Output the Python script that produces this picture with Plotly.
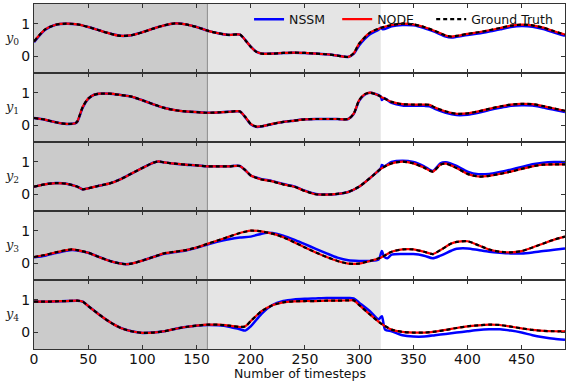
import plotly.graph_objects as go
from plotly.subplots import make_subplots

# ---------------- data ----------------
t0 = [0, 10, 20, 30, 40, 50, 60, 70, 80, 90, 100, 110, 120, 130, 140, 150, 160, 170, 180, 190, 195, 200, 205, 210, 220, 230, 240, 250, 260, 270, 280, 290, 295, 300, 310, 320, 330, 340, 350, 360, 370, 380, 385, 390, 400, 410, 420, 430, 440, 450, 460, 470, 480, 490]
gt0 = [0.46, 0.82, 0.97, 1.00, 0.98, 0.90, 0.80, 0.70, 0.63, 0.65, 0.74, 0.85, 0.95, 1.01, 0.98, 0.90, 0.79, 0.71, 0.66, 0.67, 0.50, 0.30, 0.15, 0.09, 0.09, 0.11, 0.12, 0.11, 0.09, 0.07, 0.03, -0.01, 0.10, 0.39, 0.73, 0.87, 0.96, 1.00, 0.98, 0.90, 0.78, 0.64, 0.61, 0.63, 0.69, 0.74, 0.80, 0.87, 0.94, 0.97, 0.95, 0.88, 0.77, 0.67]
node0 = [0.46, 0.82, 0.97, 1.00, 0.98, 0.90, 0.80, 0.70, 0.63, 0.65, 0.74, 0.85, 0.95, 1.01, 0.98, 0.90, 0.79, 0.71, 0.66, 0.67, 0.50, 0.30, 0.15, 0.09, 0.09, 0.11, 0.12, 0.11, 0.09, 0.07, 0.03, -0.01, 0.10, 0.39, 0.73, 0.87, 0.96, 1.00, 0.98, 0.90, 0.78, 0.64, 0.61, 0.63, 0.69, 0.74, 0.80, 0.87, 0.94, 0.97, 0.95, 0.88, 0.77, 0.67]
nt0 = [0, 10, 20, 30, 40, 50, 60, 70, 80, 90, 100, 110, 120, 130, 140, 150, 160, 170, 180, 190, 195, 200, 205, 210, 220, 230, 240, 250, 260, 270, 280, 290, 295, 300, 310, 318, 320, 322, 330, 340, 350, 360, 370, 380, 385, 390, 400, 410, 420, 430, 440, 450, 460, 470, 480, 490]
nssm0 = [0.44, 0.81, 0.97, 1.00, 0.98, 0.90, 0.80, 0.70, 0.63, 0.65, 0.74, 0.85, 0.95, 1.01, 0.98, 0.90, 0.79, 0.71, 0.66, 0.67, 0.50, 0.30, 0.15, 0.09, 0.09, 0.11, 0.12, 0.11, 0.09, 0.07, 0.03, -0.01, 0.08, 0.34, 0.68, 0.82, 0.88, 0.83, 0.92, 0.96, 0.95, 0.87, 0.75, 0.61, 0.58, 0.60, 0.66, 0.70, 0.76, 0.83, 0.90, 0.93, 0.91, 0.84, 0.73, 0.63]

t1 = [0, 10, 20, 30, 38, 40, 45, 50, 55, 60, 70, 80, 90, 100, 110, 120, 130, 140, 150, 160, 170, 180, 190, 195, 200, 205, 210, 220, 230, 240, 250, 260, 270, 280, 290, 295, 300, 305, 310, 315, 320, 330, 340, 350, 360, 365, 370, 380, 390, 400, 410, 420, 430, 440, 450, 460, 470, 480, 490]
gt1 = [0.23, 0.18, 0.10, 0.05, 0.07, 0.13, 0.57, 0.82, 0.93, 0.97, 0.97, 0.93, 0.88, 0.77, 0.65, 0.54, 0.47, 0.43, 0.41, 0.39, 0.40, 0.42, 0.43, 0.26, 0.05, -0.03, -0.02, 0.05, 0.11, 0.15, 0.19, 0.20, 0.20, 0.20, 0.20, 0.36, 0.77, 0.95, 1.00, 0.96, 0.88, 0.72, 0.65, 0.64, 0.64, 0.63, 0.55, 0.43, 0.36, 0.37, 0.43, 0.51, 0.58, 0.64, 0.66, 0.65, 0.59, 0.52, 0.45]
node1 = [0.23, 0.18, 0.10, 0.05, 0.07, 0.13, 0.57, 0.82, 0.93, 0.97, 0.97, 0.93, 0.88, 0.77, 0.65, 0.54, 0.47, 0.43, 0.41, 0.39, 0.40, 0.42, 0.43, 0.26, 0.05, -0.03, -0.02, 0.05, 0.11, 0.15, 0.19, 0.20, 0.20, 0.20, 0.20, 0.36, 0.77, 0.95, 1.00, 0.96, 0.88, 0.72, 0.65, 0.64, 0.64, 0.63, 0.55, 0.43, 0.36, 0.37, 0.43, 0.51, 0.58, 0.64, 0.66, 0.65, 0.59, 0.52, 0.45]
nt1 = [0, 10, 20, 30, 38, 40, 45, 50, 55, 60, 70, 80, 90, 100, 110, 120, 130, 140, 150, 160, 170, 180, 190, 195, 200, 205, 210, 220, 230, 240, 250, 260, 270, 280, 290, 295, 300, 305, 310, 315, 320, 321, 323, 330, 340, 350, 360, 365, 370, 380, 390, 400, 410, 420, 430, 440, 450, 460, 470, 480, 490]
nssm1 = [0.23, 0.18, 0.10, 0.05, 0.07, 0.12, 0.55, 0.81, 0.93, 0.97, 0.97, 0.93, 0.88, 0.77, 0.65, 0.54, 0.47, 0.43, 0.41, 0.39, 0.40, 0.42, 0.43, 0.25, 0.04, -0.04, -0.03, 0.05, 0.11, 0.15, 0.19, 0.20, 0.20, 0.20, 0.20, 0.35, 0.75, 0.94, 1.00, 0.96, 0.88, 0.78, 0.84, 0.69, 0.61, 0.60, 0.60, 0.59, 0.51, 0.39, 0.32, 0.33, 0.39, 0.47, 0.54, 0.60, 0.62, 0.61, 0.55, 0.48, 0.41]

t2 = [0, 10, 20, 30, 40, 45, 50, 60, 70, 80, 90, 100, 110, 115, 120, 130, 140, 150, 160, 170, 180, 190, 195, 200, 205, 210, 220, 230, 240, 250, 260, 270, 280, 290, 300, 310, 320, 330, 340, 350, 360, 368, 375, 380, 390, 400, 410, 420, 430, 440, 450, 460, 470, 480, 490]
gt2 = [0.24, 0.31, 0.35, 0.33, 0.24, 0.16, 0.19, 0.27, 0.34, 0.47, 0.64, 0.81, 0.97, 1.01, 0.98, 0.94, 0.91, 0.89, 0.86, 0.86, 0.86, 0.87, 0.74, 0.58, 0.51, 0.46, 0.40, 0.31, 0.24, 0.11, 0.01, 0.00, 0.02, 0.08, 0.24, 0.50, 0.78, 0.95, 1.00, 0.95, 0.82, 0.70, 0.91, 0.94, 0.81, 0.63, 0.55, 0.57, 0.63, 0.70, 0.78, 0.86, 0.91, 0.92, 0.92]
node2 = [0.24, 0.31, 0.35, 0.33, 0.24, 0.16, 0.19, 0.27, 0.34, 0.47, 0.64, 0.81, 0.97, 1.01, 0.98, 0.94, 0.91, 0.89, 0.86, 0.86, 0.86, 0.87, 0.74, 0.58, 0.51, 0.46, 0.40, 0.31, 0.24, 0.11, 0.01, 0.00, 0.02, 0.08, 0.24, 0.50, 0.78, 0.95, 1.00, 0.95, 0.82, 0.70, 0.91, 0.94, 0.81, 0.63, 0.55, 0.57, 0.63, 0.70, 0.78, 0.86, 0.91, 0.92, 0.92]
nt2 = [0, 10, 20, 30, 40, 45, 50, 60, 70, 80, 90, 100, 110, 115, 120, 130, 140, 150, 160, 170, 180, 190, 195, 200, 205, 210, 220, 230, 240, 250, 260, 270, 280, 290, 300, 310, 320, 321, 323, 330, 340, 350, 360, 368, 375, 380, 390, 400, 410, 420, 430, 440, 450, 460, 470, 480, 490]
nssm2 = [0.24, 0.31, 0.35, 0.33, 0.24, 0.16, 0.19, 0.27, 0.34, 0.47, 0.64, 0.81, 0.97, 1.01, 0.98, 0.94, 0.91, 0.89, 0.86, 0.86, 0.86, 0.87, 0.74, 0.58, 0.52, 0.47, 0.41, 0.32, 0.25, 0.12, 0.02, 0.00, 0.02, 0.08, 0.24, 0.50, 0.80, 0.90, 0.86, 0.99, 1.03, 0.99, 0.86, 0.72, 0.95, 0.98, 0.87, 0.70, 0.62, 0.63, 0.69, 0.76, 0.84, 0.92, 0.97, 0.99, 0.99]

t3 = [0, 10, 20, 30, 35, 40, 50, 60, 70, 80, 85, 90, 100, 110, 120, 130, 140, 150, 160, 170, 180, 190, 200, 210, 220, 230, 240, 250, 260, 270, 280, 290, 300, 310, 320, 330, 340, 350, 360, 368, 375, 385, 390, 400, 410, 420, 430, 440, 450, 460, 470, 480, 490]
gt3 = [0.20, 0.26, 0.34, 0.41, 0.43, 0.41, 0.33, 0.20, 0.08, 0.00, -0.02, 0.00, 0.09, 0.20, 0.31, 0.36, 0.41, 0.49, 0.60, 0.71, 0.82, 0.93, 1.00, 0.98, 0.91, 0.80, 0.65, 0.49, 0.34, 0.20, 0.08, 0.00, 0.00, 0.08, 0.18, 0.36, 0.43, 0.43, 0.36, 0.29, 0.41, 0.61, 0.66, 0.68, 0.56, 0.43, 0.36, 0.34, 0.38, 0.49, 0.61, 0.73, 0.82]
node3 = [0.20, 0.26, 0.34, 0.41, 0.43, 0.41, 0.33, 0.20, 0.08, 0.00, -0.02, 0.00, 0.09, 0.20, 0.31, 0.36, 0.41, 0.49, 0.60, 0.71, 0.82, 0.93, 1.00, 0.98, 0.91, 0.80, 0.65, 0.49, 0.34, 0.20, 0.08, 0.00, 0.00, 0.08, 0.18, 0.36, 0.43, 0.43, 0.36, 0.29, 0.41, 0.61, 0.66, 0.68, 0.56, 0.43, 0.36, 0.34, 0.38, 0.49, 0.61, 0.73, 0.82]
nt3 = [0, 10, 20, 30, 35, 40, 50, 60, 70, 80, 85, 90, 100, 110, 120, 130, 140, 150, 160, 170, 180, 190, 200, 210, 215, 220, 230, 240, 250, 260, 270, 280, 290, 300, 310, 318, 321, 323, 326, 330, 340, 350, 360, 368, 375, 385, 390, 400, 410, 420, 430, 440, 450, 460, 470, 480, 490]
nssm3 = [0.19, 0.24, 0.32, 0.39, 0.41, 0.40, 0.33, 0.20, 0.08, 0.00, -0.02, 0.00, 0.09, 0.20, 0.30, 0.35, 0.40, 0.48, 0.58, 0.67, 0.74, 0.79, 0.82, 0.91, 0.94, 0.93, 0.85, 0.73, 0.59, 0.45, 0.31, 0.18, 0.10, 0.08, 0.08, 0.12, 0.38, 0.22, 0.16, 0.27, 0.29, 0.29, 0.24, 0.16, 0.24, 0.39, 0.45, 0.46, 0.41, 0.36, 0.33, 0.31, 0.31, 0.34, 0.38, 0.42, 0.46]

t4 = [0, 10, 20, 30, 40, 45, 50, 60, 70, 80, 90, 100, 110, 120, 130, 140, 150, 160, 170, 180, 190, 195, 200, 210, 220, 230, 240, 250, 260, 270, 280, 290, 295, 300, 310, 320, 330, 340, 350, 360, 370, 380, 390, 400, 410, 420, 430, 440, 450, 460, 470, 480, 490]
gt4 = [0.94, 0.94, 0.95, 0.96, 0.97, 0.94, 0.81, 0.55, 0.32, 0.14, 0.04, -0.01, 0.00, 0.04, 0.11, 0.17, 0.21, 0.24, 0.24, 0.21, 0.17, 0.19, 0.35, 0.65, 0.83, 0.92, 0.95, 0.96, 0.96, 0.97, 0.97, 0.98, 0.98, 0.84, 0.55, 0.28, 0.09, 0.02, 0.00, 0.00, 0.03, 0.08, 0.14, 0.19, 0.22, 0.24, 0.23, 0.18, 0.13, 0.08, 0.05, 0.04, 0.04]
node4 = [0.94, 0.94, 0.95, 0.96, 0.97, 0.94, 0.81, 0.55, 0.32, 0.14, 0.04, -0.01, 0.00, 0.04, 0.11, 0.17, 0.21, 0.24, 0.24, 0.21, 0.17, 0.19, 0.35, 0.65, 0.83, 0.92, 0.95, 0.96, 0.96, 0.97, 0.97, 0.98, 0.98, 0.84, 0.55, 0.28, 0.09, 0.02, 0.00, 0.00, 0.03, 0.08, 0.14, 0.19, 0.22, 0.24, 0.23, 0.18, 0.13, 0.08, 0.05, 0.04, 0.04]
nt4 = [0, 10, 20, 30, 40, 45, 50, 60, 70, 80, 90, 100, 110, 120, 130, 140, 150, 160, 170, 180, 190, 195, 200, 210, 220, 230, 240, 250, 260, 270, 280, 290, 295, 300, 310, 318, 321, 324, 330, 340, 350, 360, 370, 380, 390, 400, 410, 420, 430, 440, 450, 460, 470, 480, 490]
nssm4 = [0.94, 0.94, 0.95, 0.96, 0.97, 0.94, 0.81, 0.55, 0.32, 0.14, 0.04, -0.01, 0.00, 0.04, 0.11, 0.17, 0.21, 0.23, 0.22, 0.18, 0.10, 0.06, 0.19, 0.57, 0.84, 0.96, 1.01, 1.03, 1.04, 1.05, 1.05, 1.05, 1.04, 0.91, 0.65, 0.40, 0.50, 0.09, 0.04, -0.08, -0.12, -0.12, -0.08, -0.04, 0.00, 0.04, 0.08, 0.10, 0.10, 0.06, 0.00, -0.08, -0.14, -0.19, -0.22]

series = [
    (t0, gt0, node0, nt0, nssm0),
    (t1, gt1, node1, nt1, nssm1),
    (t2, gt2, node2, nt2, nssm2),
    (t3, gt3, node3, nt3, nssm3),
    (t4, gt4, node4, nt4, nssm4),
]
row_labels = ["<i>y</i><sub>0</sub>", "<i>y</i><sub>1</sub>", "<i>y</i><sub>2</sub>",
              "<i>y</i><sub>3</sub>", "<i>y</i><sub>4</sub>"]
x_ticks = [0, 50, 100, 150, 200, 250, 300, 350, 400, 450]
y_ticks = [0, 1]
region_train = [0, 160]
region_val = [160, 320]

# ---------------- figure ----------------
fig = make_subplots(rows=5, cols=1, shared_xaxes=True, vertical_spacing=0)

for i, (t, gt, node, nt, nssm) in enumerate(series):
    r = i + 1
    first = i == 0
    fig.add_trace(go.Scatter(x=nt, y=nssm, mode="lines", name="NSSM",
                             line=dict(color="#0000ff", width=2.5, shape="spline", smoothing=0.7),
                             showlegend=first, legend="legend"), row=r, col=1)
    fig.add_trace(go.Scatter(x=t, y=node, mode="lines", name="NODE",
                             line=dict(color="#ff0000", width=2.2, shape="spline", smoothing=0.7),
                             showlegend=first, legend="legend2"), row=r, col=1)
    fig.add_trace(go.Scatter(x=t, y=gt, mode="lines", name="Ground Truth",
                             line=dict(color="#000000", width=2.2, dash="4px,3px", shape="spline", smoothing=0.7),
                             showlegend=first, legend="legend3"), row=r, col=1)
    yref = "y domain" if r == 1 else f"y{r} domain"
    fig.add_shape(type="rect", xref="x", yref=yref, x0=region_train[0], x1=region_train[1], y0=0, y1=1,
                  fillcolor="#cbcbcb", line_width=0, layer="below")
    fig.add_shape(type="rect", xref="x", yref=yref, x0=region_val[0], x1=region_val[1], y0=0, y1=1,
                  fillcolor="#e5e5e5", line_width=0, layer="below")
    fig.update_yaxes(row=r, col=1, range=[-0.5, 1.6], tickvals=y_ticks, ticks="inside", ticklen=4,
                     showline=True, mirror="ticks", linecolor="#333", linewidth=1, tickcolor="#333",
                     showgrid=False, zeroline=False, automargin=False,
                     tickfont=dict(family="DejaVu Sans", size=14, color="#111"))
    fig.update_xaxes(row=r, col=1, range=[0, 490], tickvals=x_ticks, ticks="inside", ticklen=4,
                     showline=True, mirror="ticks", linecolor="#333", linewidth=1, tickcolor="#333",
                     showgrid=False, zeroline=False, automargin=False, ticklabelstandoff=-3,
                     tickfont=dict(family="DejaVu Sans", size=14, color="#111"))
    # horizontal row label (y_k) placed left of the tick labels
    dom = fig.layout["yaxis" if r == 1 else f"yaxis{r}"].domain
    fig.add_annotation(text=row_labels[i], xref="paper", yref="paper",
                       x=-0.042, y=(dom[0] + dom[1]) / 2, xanchor="center", yanchor="middle",
                       showarrow=False,
                       font=dict(family="DejaVu Serif", size=13, color="#222"))

fig.add_shape(type="line", xref="x", yref="paper", x0=region_val[0], x1=region_val[0], y0=0, y1=1,
              line=dict(color="#8a8a8a", width=1), layer="below")

fig.add_annotation(text="Number of timesteps", xref="paper", yref="paper",
                   x=0.5, y=-0.072, xanchor="center", yanchor="middle", showarrow=False,
                   font=dict(family="DejaVu Sans", size=12.5, color="#111"))

legend_style = dict(orientation="h", y=0.955, yanchor="middle", xanchor="left",
                    bgcolor="rgba(0,0,0,0)", borderwidth=0, itemwidth=30,
                    font=dict(family="DejaVu Sans", size=12.5, color="#111"))

fig.update_layout(
    width=566, height=388,
    margin=dict(l=34, r=1, t=4, b=39, autoexpand=False),
    plot_bgcolor="white", paper_bgcolor="white",
    font=dict(family="DejaVu Sans", size=12, color="#111"),
    legend=dict(x=0.405, **legend_style),
    legend2=dict(x=0.571, **legend_style),
    legend3=dict(x=0.748, **legend_style),
)

fig.write_html("out.html", config={"displayModeBar": False},
               post_script="document.body.style.margin='0px';")
